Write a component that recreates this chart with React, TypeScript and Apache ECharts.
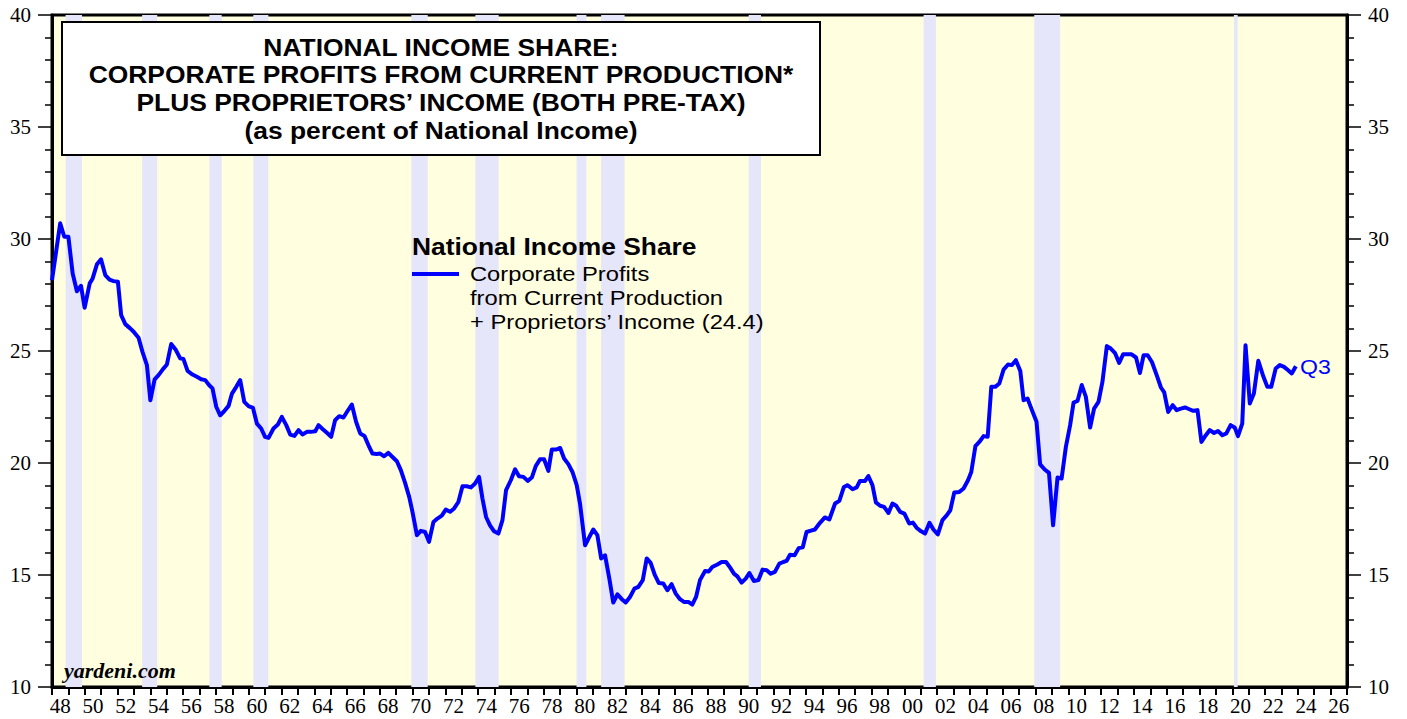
import React, { useEffect, useRef } from "react";
import * as echarts from "echarts";

const years: number[] = [
  1948.0, 1948.5, 1948.75, 1949.0, 1949.26, 1949.52, 1949.77, 1949.99, 1950.3, 1950.48, 1950.74, 1950.99,
  1951.25, 1951.51, 1951.76, 1952.02, 1952.22, 1952.47, 1952.77, 1952.98, 1953.28, 1953.52, 1953.79, 1954.0,
  1954.26, 1954.5, 1954.77, 1955.01, 1955.27, 1955.56, 1955.82, 1956.02, 1956.27, 1956.57, 1956.84, 1957.1,
  1957.35, 1957.59, 1957.79, 1958.02, 1958.26, 1958.5, 1958.77, 1958.98, 1959.24, 1959.48, 1959.73, 1959.99,
  1960.26, 1960.5, 1960.76, 1961.0, 1961.21, 1961.51, 1961.78, 1962.02, 1962.29, 1962.53, 1962.79, 1963.04,
  1963.28, 1963.55, 1963.79, 1964.06, 1964.26, 1964.52, 1964.77, 1965.03, 1965.27, 1965.52, 1965.78, 1966.02,
  1966.29, 1966.55, 1966.8, 1967.06, 1967.3, 1967.55, 1967.8, 1968.02, 1968.26, 1968.52, 1968.77, 1969.04,
  1969.28, 1969.54, 1969.79, 1969.99, 1970.26, 1970.5, 1970.76, 1971.0, 1971.27, 1971.51, 1971.78, 1972.02,
  1972.29, 1972.53, 1972.79, 1973.04, 1973.3, 1973.55, 1973.81, 1974.05, 1974.26, 1974.48, 1974.72, 1974.97,
  1975.23, 1975.48, 1975.7, 1975.99, 1976.25, 1976.49, 1976.76, 1977.02, 1977.27, 1977.51, 1977.77, 1978.02,
  1978.28, 1978.49, 1978.75, 1979.0, 1979.24, 1979.5, 1979.75, 1980.01, 1980.21, 1980.52, 1980.76, 1981.02,
  1981.27, 1981.5, 1981.74, 1982.0, 1982.24, 1982.49, 1982.76, 1983.0, 1983.26, 1983.53, 1983.77, 1984.04,
  1984.28, 1984.52, 1984.78, 1985.02, 1985.29, 1985.54, 1985.8, 1986.05, 1986.31, 1986.55, 1986.82, 1987.06,
  1987.29, 1987.53, 1987.84, 1988.06, 1988.28, 1988.59, 1988.85, 1989.12, 1989.37, 1989.6, 1989.81, 1990.07,
  1990.32, 1990.54, 1990.82, 1991.09, 1991.35, 1991.6, 1991.84, 1992.1, 1992.37, 1992.61, 1992.81, 1993.02,
  1993.3, 1993.55, 1993.8, 1994.03, 1994.3, 1994.54, 1994.85, 1995.15, 1995.42, 1995.77, 1996.03, 1996.31,
  1996.54, 1996.84, 1997.09, 1997.29, 1997.6, 1997.8, 1998.05, 1998.26, 1998.52, 1998.76, 1999.03, 1999.27,
  1999.5, 1999.74, 2000.0, 2000.29, 2000.52, 2000.76, 2001.02, 2001.26, 2001.53, 2001.77, 2002.04, 2002.32,
  2002.59, 2002.8, 2003.04, 2003.35, 2003.61, 2003.88, 2004.08, 2004.33, 2004.57, 2004.83, 2005.08, 2005.3,
  2005.54, 2005.79, 2006.05, 2006.32, 2006.56, 2006.8, 2007.07, 2007.27, 2007.51, 2007.78, 2008.06, 2008.28,
  2008.56, 2008.82, 2009.07, 2009.34, 2009.59, 2009.85, 2010.11, 2010.32, 2010.56, 2010.82, 2011.07, 2011.33,
  2011.57, 2011.84, 2012.08, 2012.35, 2012.59, 2012.84, 2013.1, 2013.35, 2013.62, 2013.86, 2014.13, 2014.37,
  2014.59, 2014.84, 2015.1, 2015.39, 2015.65, 2015.85, 2016.09, 2016.37, 2016.61, 2016.86, 2017.12, 2017.38,
  2017.62, 2017.88, 2018.12, 2018.39, 2018.63, 2018.89, 2019.13, 2019.4, 2019.64, 2019.9, 2020.15, 2020.35,
  2020.61, 2020.81, 2021.07, 2021.32, 2021.59, 2021.87, 2022.14, 2022.38, 2022.65, 2022.9, 2023.16, 2023.41,
  2023.63, 2023.88,
];

const shareValues: number[] = [
  28.16, 30.7, 30.1, 30.1, 28.46, 27.67, 27.91, 26.93, 28.02, 28.24, 28.87, 29.09,
  28.39, 28.19, 28.12, 28.09, 26.6, 26.2, 26.01, 25.86, 25.59, 24.96, 24.37, 22.8,
  23.73, 23.92, 24.19, 24.4, 25.31, 25.04, 24.67, 24.64, 24.11, 23.95, 23.85, 23.74,
  23.7, 23.47, 23.33, 22.51, 22.13, 22.31, 22.55, 23.1, 23.4, 23.7, 22.73, 22.54,
  22.46, 21.76, 21.54, 21.17, 21.12, 21.54, 21.72, 22.06, 21.69, 21.27, 21.21, 21.47,
  21.27, 21.39, 21.39, 21.42, 21.69, 21.51, 21.35, 21.17, 21.91, 22.09, 22.03, 22.31,
  22.61, 21.84, 21.32, 21.21, 20.8, 20.42, 20.4, 20.42, 20.3, 20.45, 20.27, 20.08,
  19.68, 19.11, 18.49, 17.82, 16.78, 16.97, 16.92, 16.48, 17.37, 17.52, 17.65, 17.92,
  17.82, 17.97, 18.26, 18.96, 18.96, 18.91, 19.08, 19.38, 18.41, 17.59, 17.22, 16.95,
  16.85, 17.45, 18.79, 19.23, 19.72, 19.41, 19.38, 19.2, 19.35, 19.86, 20.17, 20.17,
  19.65, 20.6, 20.6, 20.67, 20.2, 19.95, 19.6, 19.01, 18.19, 16.33, 16.67, 17.03,
  16.78, 15.74, 15.88, 14.84, 13.77, 14.14, 13.92, 13.77, 14.02, 14.39, 14.47, 14.77,
  15.74, 15.54, 14.99, 14.64, 14.62, 14.32, 14.59, 14.17, 13.92, 13.8, 13.8, 13.68,
  14.02, 14.77, 15.18, 15.16, 15.36, 15.47, 15.58, 15.58, 15.33, 15.06, 14.94, 14.66,
  14.84, 15.09, 14.73, 14.77, 15.24, 15.21, 15.06, 15.14, 15.51, 15.58, 15.63, 15.9,
  15.88, 16.2, 16.24, 16.92, 16.98, 17.03, 17.33, 17.57, 17.48, 18.19, 18.31, 18.93,
  19.01, 18.83, 18.91, 19.2, 19.2, 19.42, 19.01, 18.24, 18.09, 18.04, 17.77, 18.19,
  18.09, 17.82, 17.74, 17.3, 17.34, 17.1, 16.95, 16.85, 17.33, 17.03, 16.81, 17.45,
  17.67, 17.89, 18.68, 18.71, 18.86, 19.23, 19.6, 20.75, 20.94, 21.2, 21.17, 23.4,
  23.4, 23.55, 24.17, 24.4, 24.37, 24.59, 24.11, 22.8, 22.88, 22.36, 21.84, 19.94,
  19.71, 19.56, 17.22, 19.35, 19.31, 20.72, 21.69, 22.7, 22.77, 23.48, 22.95, 21.58,
  22.43, 22.73, 23.62, 25.22, 25.11, 24.92, 24.47, 24.86, 24.85, 24.85, 24.71, 24.02,
  24.81, 24.81, 24.51, 23.92, 23.37, 23.15, 22.28, 22.58, 22.36, 22.43, 22.48, 22.4,
  22.33, 22.36, 20.94, 21.24, 21.47, 21.34, 21.43, 21.24, 21.32, 21.69, 21.59, 21.2,
  21.76, 25.26, 22.66, 23.1, 24.56, 23.92, 23.4, 23.4, 24.22, 24.37, 24.29, 24.14,
  24.0, 24.32,
];

const recessions: [number, number][] = [
  [1948.83, 1949.83], [1953.5, 1954.42], [1957.6, 1958.35], [1960.28, 1961.2],
  [1969.92, 1970.92], [1973.83, 1975.25], [1980.0, 1980.6], [1981.5, 1982.93],
  [1990.5, 1991.25], [2001.17, 2001.92], [2007.92, 2009.5], [2020.1, 2020.33],
];

const yearCategories: string[] = [];
for (let y = 1948; y <= 2026; y++) yearCategories.push(String(y % 100).padStart(2, "0"));

const titleLines: string[] = [
  "NATIONAL INCOME SHARE:",
  "CORPORATE PROFITS FROM CURRENT PRODUCTION*",
  "PLUS PROPRIETORS\u2019 INCOME (BOTH PRE-TAX)",
  "(as percent of National Income)",
];

const legendTitle = "National Income Share";
const legendLines: string[] = [
  "Corporate Profits",
  "from Current Production",
  "+ Proprietors\u2019 Income (24.4)",
];

const SANS = "'Liberation Sans', Arial, sans-serif";
const SERIF = "'Liberation Serif', 'Times New Roman', serif";

export default function App() {
  const ref = useRef<HTMLDivElement>(null);
  useEffect(() => {
    if (!ref.current) return;
    const chart = echarts.init(ref.current, undefined, { renderer: "svg" });
    const lineData = years.map((y, i) => [y, shareValues[i]]);
    const yAxisBase = {
      type: "value",
      min: 10,
      max: 40,
      interval: 5,
      splitLine: { show: false },
      axisLine: { show: true, lineStyle: { color: "#000", width: 3 } },
      axisTick: { show: true, length: 14, lineStyle: { color: "#000", width: 1.5 } },
      minorTick: { show: true, splitNumber: 5, length: 7, lineStyle: { color: "#000", width: 1.5 } },
      axisLabel: { color: "#000", fontFamily: SERIF, fontSize: 21, margin: 21 },
    };
    const graphics: any[] = [
      {
        type: "rect",
        z: 100,
        shape: { x: 62, y: 22, width: 758, height: 133 },
        style: { fill: "#fff", stroke: "#000", lineWidth: 2 },
      },
      ...titleLines.map((t, i) => ({
        type: "text",
        z: 101,
        x: 441,
        y: 47 + i * 27.7,
        scaleX: 1.1,
        style: {
          text: t,
          fill: "#000",
          font: `bold 24px ${SANS}`,
          textAlign: "center",
          textVerticalAlign: "middle",
        },
      })),
      {
        type: "text",
        z: 101,
        x: 412,
        y: 246,
        scaleX: 1.1,
        style: { text: legendTitle, fill: "#000", font: `bold 24px ${SANS}`, textVerticalAlign: "middle" },
      },
      {
        type: "line",
        z: 101,
        shape: { x1: 412, y1: 274, x2: 459, y2: 274 },
        style: { stroke: "#0000ff", lineWidth: 4 },
      },
      ...legendLines.map((t, i) => ({
        type: "text",
        z: 101,
        x: 470,
        y: 274 + i * 24,
        scaleX: 1.13,
        style: { text: t, fill: "#000", font: `21px ${SANS}`, textVerticalAlign: "middle" },
      })),
      {
        type: "text",
        z: 101,
        x: 1300,
        y: 367,
        scaleX: 1.1,
        style: { text: "Q3", fill: "#0000ff", font: `21px ${SANS}`, textVerticalAlign: "middle" },
      },
      {
        type: "text",
        z: 101,
        x: 64,
        y: 670,
        style: { text: "yardeni.com", fill: "#000", font: `italic bold 22px ${SERIF}`, textVerticalAlign: "middle" },
      },
    ];
    chart.setOption({
      animation: false,
      grid: {
        left: 52,
        right: 60,
        top: 15,
        bottom: 32,
        show: true,
        backgroundColor: "#FFFFE0",
        borderColor: "#000",
        borderWidth: 3,
      },
      xAxis: [
        {
          type: "value",
          min: 1948,
          max: 2027,
          show: false,
          splitLine: { show: false },
        },
        {
          type: "category",
          data: yearCategories,
          position: "bottom",
          boundaryGap: true,
          axisLine: { show: true, lineStyle: { color: "#000", width: 3 } },
          axisTick: { show: true, interval: 0, length: 8, lineStyle: { color: "#000", width: 2 } },
          axisLabel: { interval: 1, color: "#000", fontFamily: SERIF, fontSize: 21, margin: 8 },
          splitLine: { show: false },
        },
      ],
      yAxis: [
        { ...yAxisBase, position: "left" },
        { ...yAxisBase, position: "right" },
      ],
      series: [
        {
          type: "line",
          name: "bands",
          xAxisIndex: 0,
          yAxisIndex: 0,
          data: [[1948, 10]],
          symbol: "none",
          lineStyle: { width: 0, opacity: 0 },
          z: 1,
          silent: true,
          markArea: {
            silent: true,
            itemStyle: { color: "#E6E6FA", opacity: 1 },
            data: recessions.map(([s, e]) => [{ xAxis: s }, { xAxis: e }]),
          },
        },
        {
          type: "line",
          name: "Corporate Profits + Proprietors' Income",
          xAxisIndex: 0,
          yAxisIndex: 0,
          data: lineData,
          symbol: "none",
          z: 5,
          lineStyle: { color: "#0000ff", width: 4, join: "round" },
        },
      ],
      graphic: graphics,
    });
    return () => chart.dispose();
  }, []);
  return (
    <div
      ref={ref}
      style={{ position: "fixed", left: 0, top: 0, width: 1407, height: 719, background: "#fff" }}
    />
  );
}
